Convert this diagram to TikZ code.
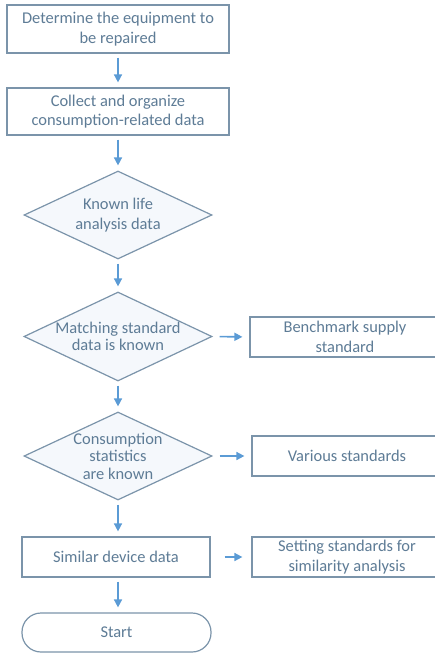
\documentclass[tikz,border=0pt]{standalone}
\usepackage{fontspec}
\setmainfont{Carlito}
\usetikzlibrary{shapes.geometric,arrows.meta}
\definecolor{edgec}{HTML}{7B94AA}
\definecolor{txtc}{HTML}{5E7C96}
\definecolor{arrc}{HTML}{5B9BD5}
\definecolor{dfill}{HTML}{F5F8FC}
\begin{document}
\begin{tikzpicture}[x=1bp,y=-1bp,
  box/.style={draw=edgec,line width=1.2bp,fill=white,inner sep=0,text=txtc,align=center,font=\fontsize{16.5}{19.5}\selectfont},
  dia/.style={draw=edgec,line width=1.2bp,fill=dfill,diamond,inner sep=0,minimum width=188bp,minimum height=88bp},
  dtext/.style={text=txtc,align=center,inner sep=0,font=\fontsize{16.5}{17.5}\selectfont},
  arw/.style={draw=arrc,line width=1.6bp,-{Triangle[length=8bp,width=8bp]},shorten <=4bp,shorten >=5bp}]
\useasboundingbox (0,0) rectangle (435,653);
\clip (0,0) rectangle (435,653);
\node[box,minimum width=222bp,minimum height=48bp] (b1) at (118,29) {Determine the equipment to\\be repaired};
\node[box,minimum width=222bp,minimum height=47bp] (b2) at (118,111.5) {Collect and organize\\consumption-related data};
\node[dia] (d1) at (118,215) {};
\node[dtext,font=\fontsize{16.5}{20}\selectfont] (d1t) at (d1) {Known life\\analysis data};
\node[dia,minimum height=89bp] (d2) at (118,336.5) {};
\node[dtext] (d2t) at (d2) {Matching standard\\data is known};
\node[dia] (d3) at (118,456) {};
\node[dtext] (d3t) at (d3) {Consumption\\statistics\\are known};
\node[box,minimum width=190bp,minimum height=40bp] (r1) at (345,337) {Benchmark supply\\standard};
\node[box,minimum width=190bp,minimum height=40bp] (r2) at (347,456) {Various standards};
\node[box,minimum width=188bp,minimum height=40bp] (s) at (116,557) {Similar device data};
\node[box,minimum width=190bp,minimum height=40bp] (r3) at (347,557) {Setting standards for\\similarity analysis};
\node[box,minimum width=189bp,minimum height=39bp,rounded corners=19bp] (st) at (116.5,632.5) {Start};
\draw[arw] (b1) -- (b2);
\draw[arw] (b2) -- (d1);
\draw[arw] (d1) -- (d2);
\draw[arw] (d2) -- (d3);
\draw[arw] (d3.south) -- (d3.south |- s.north);
\draw[arw] (d3.south |- s.south) -- (d3.south |- st.north);
\draw[arw,shorten <=7bp,shorten >=7bp] (d2.east) -- (r1.west);
\draw[arw,shorten <=7bp,shorten >=7bp] (d3.east) -- (r2.west);
\draw[arw,shorten <=14bp,shorten >=9bp] (s.east) -- (r3.west);
\end{tikzpicture}
\end{document}
